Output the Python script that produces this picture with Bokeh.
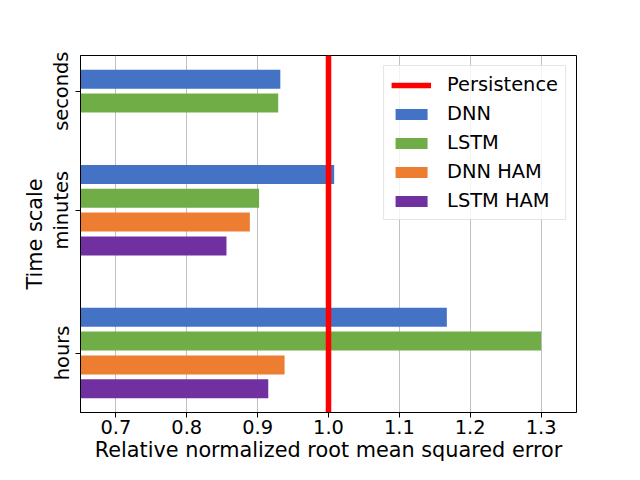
from bokeh.plotting import figure
from bokeh.models import Range1d, FixedTicker, Legend, LegendItem, ColumnDataSource, PrintfTickFormatter
from bokeh.embed import file_html
from bokeh.resources import INLINE

# ---- data ----
categories = ["seconds", "minutes", "hours"]
models = ["DNN", "LSTM", "DNN HAM", "LSTM HAM"]
dnn = [0.932, 1.008, 1.167]
lstm = [0.929, 0.902, 1.300]
dnn_ham = [None, 0.889, 0.938]
lstm_ham = [None, 0.856, 0.915]
persistence = 1.0
x_ticks = [0.7, 0.8, 0.9, 1.0, 1.1, 1.2, 1.3]

colors = ["#4472C4", "#70AD47", "#ED7D31", "#7030A0"]
series = [dnn, lstm, dnn_ham, lstm_ham]
group_start = [0, 4, 10]  # slot of first bar of each group
FONT = "DejaVu Sans"
FS = "19.4px"
FS_LABEL = "20.8px"

p = figure(width=624, height=464, output_backend="svg", toolbar_location=None,
           x_range=Range1d(0.65, 1.35), y_range=Range1d(14, -1),
           min_border_left=80, min_border_right=48, min_border_top=55, min_border_bottom=5)

items = []
for si, (name, vals, col) in enumerate(zip(models, series, colors)):
    ys, xs = [], []
    for gi, v in enumerate(vals):
        if v is None:
            continue
        ys.append(group_start[gi] + si)
        xs.append(v)
    src = ColumnDataSource(dict(y=ys, right=xs))
    r = p.hbar(y="y", right="right", left=0, height=0.8, source=src,
               fill_color=col, line_color=None)
    items.append((name, r))

counts = [sum(1 for s in series if s[gi] is not None) for gi in range(len(categories))]
tick_pos = [group_start[gi] + (counts[gi] - 1) / 2 for gi in range(len(categories))]

yr = p.y_range
pr = p.segment(x0=[persistence], x1=[persistence], y0=[yr.start], y1=[yr.end],
               line_color="#FF0000", line_width=5.5)

legend = Legend(items=[LegendItem(label="Persistence", renderers=[pr])] +
                [LegendItem(label=n, renderers=[r]) for n, r in items],
                location="top_right")
legend.label_text_font = FONT
legend.label_text_font_size = FS
legend.label_text_color = "black"
legend.glyph_width = 40
legend.glyph_height = 14
legend.label_height = 20
legend.label_standoff = 16
legend.spacing = 6
legend.padding = 7
legend.margin = 10
legend.border_line_color = "#cccccc"
legend.border_line_width = 1
legend.background_fill_alpha = 0.8
p.add_layout(legend)

p.xaxis.ticker = FixedTicker(ticks=x_ticks)
p.xaxis.formatter = PrintfTickFormatter(format="%.1f")
p.yaxis.ticker = FixedTicker(ticks=tick_pos)
p.yaxis.major_label_overrides = {t: c for t, c in zip(tick_pos, categories)}
p.yaxis.major_label_orientation = "vertical"
p.xaxis.axis_label = "Relative normalized root mean squared error"
p.yaxis.axis_label = "Time scale"
for ax in (p.xaxis, p.yaxis):
    ax.axis_label_text_font = FONT
    ax.axis_label_text_font_size = FS_LABEL
    ax.axis_label_text_font_style = "normal"
    ax.major_label_text_font = FONT
    ax.major_label_text_font_size = FS
    ax.major_label_text_color = "black"
    ax.axis_label_text_color = "black"
    ax.minor_tick_line_color = None
    ax.major_tick_in = 0
    ax.major_tick_out = 5
    ax.major_tick_line_color = "black"
    ax.axis_line_color = "black"
    ax.major_label_standoff = 2
    ax.axis_label_standoff = 1

p.xgrid.grid_line_color = "#b0b0b0"
p.xgrid.grid_line_width = 0.8
p.ygrid.visible = False
p.outline_line_color = "black"
p.outline_line_alpha = 1
p.outline_line_width = 1
p.background_fill_color = "white"
p.border_fill_color = "white"

open("out.html", "w").write(file_html(p, INLINE))
